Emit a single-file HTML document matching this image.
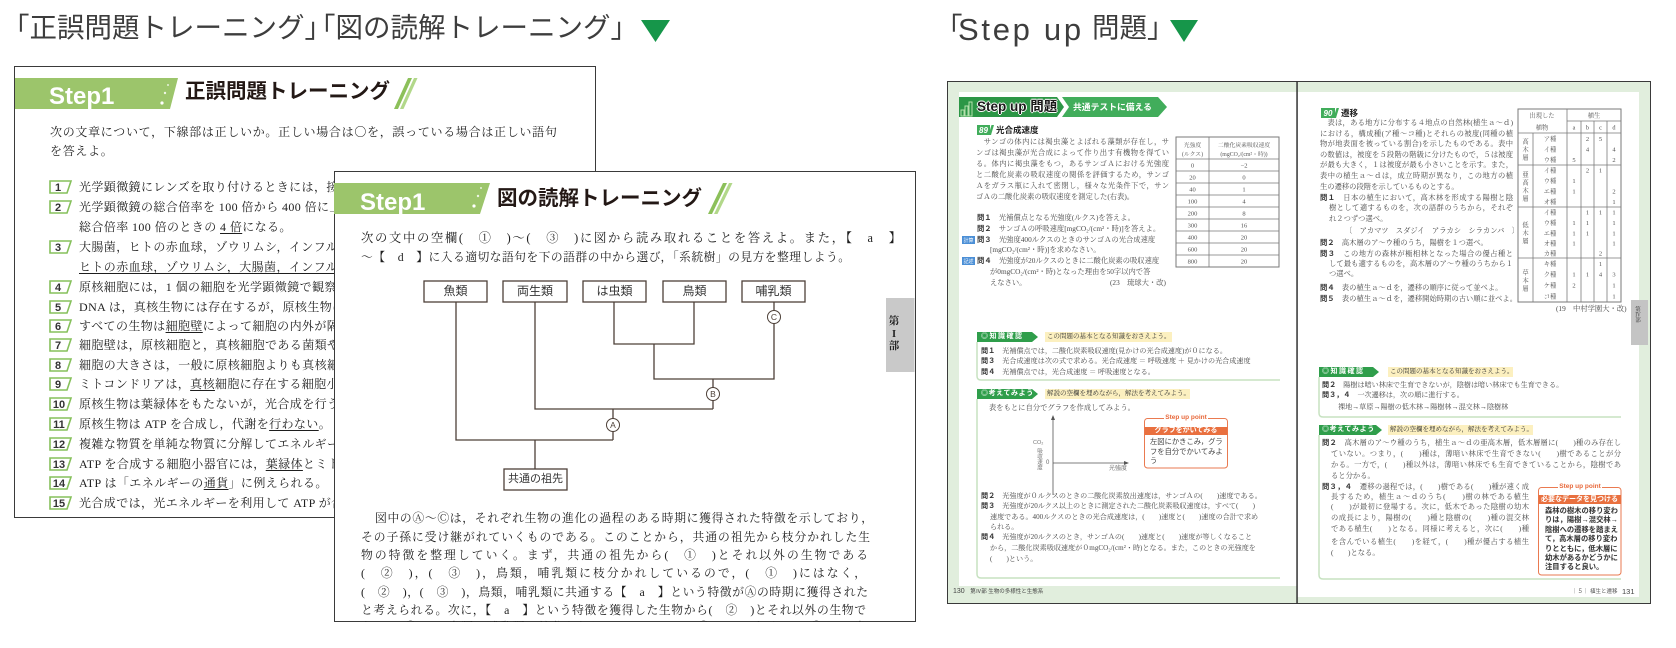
<!DOCTYPE html>
<html lang="ja"><head><meta charset="utf-8"><title>page</title>
<style>
*{margin:0;padding:0;box-sizing:border-box}
html,body{width:1676px;height:648px;overflow:hidden;background:#fff}
body{position:relative;font-family:"Liberation Sans","Noto Sans CJK JP",sans-serif;color:#222}
.a{position:absolute;white-space:nowrap}
.pg{position:absolute;overflow:hidden;background:#fff;outline:1.5px solid #3a3a3a;outline-offset:-1.5px}
.g{position:absolute;width:1676px;height:648px}
.g>svg{position:absolute;left:0;top:0}
.m{font-family:"Liberation Serif","Noto Serif CJK SC",serif}
.gs{font-family:"Liberation Sans","Noto Sans CJK JP",sans-serif}
.j{position:absolute;text-align:justify;text-align-last:justify;overflow:hidden;white-space:normal}
.r1{font-size:12px;letter-spacing:.4px;line-height:16px;color:#1e1e1e}
.p2{font-size:11.8px;line-height:16px;height:16px;color:#1e1e1e}
.u{text-decoration:underline;text-underline-offset:2px;text-decoration-thickness:1px}
.t{font-size:7.3px;line-height:10px;height:10px;color:#4a4a4a}
.q{font-family:"Liberation Sans","Noto Sans CJK JP",sans-serif;font-weight:bold;color:#333}
.lb{font-size:12px;line-height:21px;height:21px;text-align:center;color:#333;position:absolute}
</style></head><body>

<!-- Titles -->
<div class="a gs" style="left:2px;top:14px;font-size:27.5px;line-height:27px;color:#3d3d3d">「正誤問題トレーニング」</div>
<div class="a gs" style="left:308px;top:14px;font-size:27.5px;line-height:27px;color:#3d3d3d">「図の読解トレーニング」</div>
<div style="position:absolute;left:641px;top:20px;width:29px;height:22px;background:#16964a;clip-path:polygon(0 0,100% 0,50% 100%)"></div>

<div class="a gs" style="left:935px;top:14px;font-size:27.5px;line-height:27px;color:#3d3d3d">「</div>
<div class="a" style="left:958px;top:16px;font-family:'Liberation Sans',sans-serif;font-size:31px;line-height:27px;letter-spacing:2.7px;color:#3d3d3d">Step up</div>
<div class="a gs" style="left:1092px;top:14px;font-size:27.5px;line-height:27px;color:#3d3d3d">問題」</div>
<div style="position:absolute;left:1170px;top:20px;width:28px;height:22px;background:#16964a;clip-path:polygon(0 0,100% 0,50% 100%)"></div>

<!-- Page 1 -->
<div class="pg" style="left:14px;top:66px;width:582px;height:452px">
<div class="g" style="left:-14px;top:-66px">
<svg width="1676" height="648">
<polygon points="15,78 178,78 170,109 15,109" fill="#9cc56b"/>
<circle cx="168" cy="85" r="1" fill="#e6f2d8"/><circle cx="165" cy="93" r="1.2" fill="#eef6e4"/><circle cx="162" cy="103" r="1.6" fill="#fff"/>
<polygon points="408,78 412,78 398,109 394,109" fill="#8cc05a"/>
<polygon points="414,78 417.5,78 403.5,109 400,109" fill="#b2d88a"/>
<g fill="none" stroke="#86c05c" stroke-width="1.6">
<polygon points="50,181 71,181 67,193 50,193"/>
<polygon points="50,201 71,201 67,213 50,213"/>
<polygon points="50,241 71,241 67,253 50,253"/>
<polygon points="50,281 71,281 67,293 50,293"/>
<polygon points="50,301 71,301 67,313 50,313"/>
<polygon points="50,320 71,320 67,332 50,332"/>
<polygon points="50,339 71,339 67,351 50,351"/>
<polygon points="50,359 71,359 67,371 50,371"/>
<polygon points="50,378 71,378 67,390 50,390"/>
<polygon points="50,398 71,398 67,410 50,410"/>
<polygon points="50,418 71,418 67,430 50,430"/>
<polygon points="50,438 71,438 67,450 50,450"/>
<polygon points="50,458 71,458 67,470 50,470"/>
<polygon points="50,477 71,477 67,489 50,489"/>
<polygon points="50,497 71,497 67,509 50,509"/>
</g>
<g font-family="Liberation Sans,sans-serif" font-weight="bold" font-size="11" fill="#333" text-anchor="middle">
<text x="58" y="191">1</text><text x="58" y="211">2</text><text x="58" y="251">3</text><text x="58" y="291">4</text>
<text x="58" y="311">5</text><text x="58" y="330">6</text><text x="58" y="349">7</text><text x="58" y="369">8</text>
<text x="58" y="388">9</text><text x="59" y="408">10</text><text x="59" y="428">11</text><text x="59" y="448">12</text>
<text x="59" y="468">13</text><text x="59" y="487">14</text><text x="59" y="507">15</text>
</g>
</svg>
<div class="a" style="left:49px;top:85px;font-family:'Liberation Sans',sans-serif;font-weight:bold;font-size:24px;line-height:24px;color:#fff">Step1</div>
<div class="a gs" style="left:185px;top:81px;font-weight:bold;font-size:20.5px;line-height:22px;color:#231815">正誤問題トレーニング</div>
<div class="a m" style="left:50px;top:124px;font-size:12px;letter-spacing:.7px;line-height:16px;color:#1e1e1e">次の文章について，下線部は正しいか。正しい場合は〇を，誤っている場合は正しい語句</div>
<div class="a m" style="left:50px;top:143px;font-size:12px;letter-spacing:.7px;line-height:16px;color:#1e1e1e">を答えよ。</div>
<div class="a m r1" style="left:79px;top:179px">光学顕微鏡にレンズを取り付けるときには，接眼レンズを先に取り付ける。</div>
<div class="a m r1" style="left:79px;top:199px">光学顕微鏡の総合倍率を 100 倍から 400 倍に上げると，視野の面積は</div>
<div class="a m r1" style="left:79px;top:219px">総合倍率 100 倍のときの <span class="u">4 倍</span>になる。</div>
<div class="a m r1" style="left:79px;top:239px">大腸菌，ヒトの赤血球，ゾウリムシ，インフルエンザウイルスを大きい順に並べると，</div>
<div class="a m r1" style="left:79px;top:259px"><span class="u">ヒトの赤血球，ゾウリムシ，大腸菌，インフルエンザウイルス</span>となる。</div>
<div class="a m r1" style="left:79px;top:279px">原核細胞には，1 個の細胞を光学顕微鏡で観察できるものがある。</div>
<div class="a m r1" style="left:79px;top:299px">DNA は，真核生物には存在するが，原核生物には存在しない。</div>
<div class="a m r1" style="left:79px;top:318px">すべての生物は<span class="u">細胞壁</span>によって細胞の内外が隔てられている。</div>
<div class="a m r1" style="left:79px;top:337px">細胞壁は，原核細胞と，真核細胞である菌類や植物細胞にみられる。</div>
<div class="a m r1" style="left:79px;top:357px">細胞の大きさは，一般に原核細胞よりも真核細胞の方が大きい。</div>
<div class="a m r1" style="left:79px;top:376px">ミトコンドリアは，<span class="u">真核</span>細胞に存在する細胞小器官である。</div>
<div class="a m r1" style="left:79px;top:396px">原核生物は葉緑体をもたないが，光合成を行うものがいる。</div>
<div class="a m r1" style="left:79px;top:416px">原核生物は ATP を合成し，代謝を<span class="u">行わない</span>。</div>
<div class="a m r1" style="left:79px;top:436px">複雑な物質を単純な物質に分解してエネルギーを取り出す反応を異化という。</div>
<div class="a m r1" style="left:79px;top:456px">ATP を合成する細胞小器官には，<span class="u">葉緑体</span>とミトコンドリアがある。</div>
<div class="a m r1" style="left:79px;top:475px">ATP は「エネルギーの<span class="u">通貨</span>」に例えられる。</div>
<div class="a m r1" style="left:79px;top:495px">光合成では，光エネルギーを利用して ATP が合成される。</div>
</div></div>

<!-- Page 2 -->
<div class="pg" style="left:334px;top:171px;width:582px;height:451px">
<div class="g" style="left:-334px;top:-171px">
<svg width="1676" height="648">
<polygon points="334,183 490,183 480,214 334,214" fill="#9cc56b"/>
<circle cx="481" cy="188" r="1" fill="#e6f2d8"/><circle cx="478" cy="196" r="1.2" fill="#eef6e4"/><circle cx="474" cy="206" r="1.6" fill="#fff"/>
<polygon points="723,183 727,183 712,214 708,214" fill="#8cc05a"/>
<polygon points="729,183 732.5,183 717.5,214 714,214" fill="#b2d88a"/>
<rect x="886" y="298" width="28.5" height="74" fill="#c9c9c9"/>
<g stroke="#4d4038" stroke-width="1.3" fill="none">
<rect x="424" y="281" width="63" height="21"/>
<rect x="503" y="281" width="64" height="21"/>
<rect x="583" y="281" width="63" height="21"/>
<rect x="663" y="281" width="63" height="21"/>
<rect x="742" y="281" width="63" height="21"/>
<rect x="504" y="469" width="63" height="21"/>
<path d="M456 302V440H613M535 302V409H713M614 302V344H694V302M654 344V379H774V302M713 379V409M613 409V440M535 440V469"/>
</g>
<g fill="#fff" stroke="#4d4038" stroke-width="1"><circle cx="774" cy="317" r="6.5"/><circle cx="713" cy="394" r="6.5"/><circle cx="613" cy="425" r="6.5"/></g>
<g font-family="Liberation Sans,sans-serif" font-size="8.5" fill="#4d4038" text-anchor="middle">
<text x="774" y="320">C</text><text x="713" y="397">B</text><text x="613" y="428">A</text>
</g>
</svg>
<div class="a" style="left:360px;top:191px;font-family:'Liberation Sans',sans-serif;font-weight:bold;font-size:24px;line-height:24px;color:#fff">Step1</div>
<div class="a gs" style="left:497px;top:188px;font-weight:bold;font-size:20.5px;line-height:22px;color:#231815">図の読解トレーニング</div>
<div class="j m" style="left:361px;top:230px;width:540px;font-size:12.3px;line-height:16px;height:16px;color:#1e1e1e">次の文中の空欄(　①　)～(　③　)に図から読み取れることを答えよ。また，【　a　】</div>
<div class="j m" style="left:361px;top:249px;width:489px;font-size:11.8px;line-height:16px;height:16px;color:#1e1e1e">～【　d　】に入る適切な語句を下の語群の中から選び，「系統樹」の見方を整理しよう。</div>
<div class="lb gs" style="left:424px;top:281px;width:63px">魚類</div>
<div class="lb gs" style="left:503px;top:281px;width:64px">両生類</div>
<div class="lb gs" style="left:583px;top:281px;width:63px">は虫類</div>
<div class="lb gs" style="left:663px;top:281px;width:63px">鳥類</div>
<div class="lb gs" style="left:742px;top:281px;width:63px">哺乳類</div>
<div class="lb gs" style="left:504px;top:469px;width:63px;font-size:11px">共通の祖先</div>
<div class="j m p2" style="left:375px;top:510px;width:498px">図中のⒶ～Ⓒは，それぞれ生物の進化の過程のある時期に獲得された特徴を示しており，</div>
<div class="j m p2" style="left:361px;top:529px;width:509px">その子孫に受け継がれていくものである。このことから，共通の祖先から枝分かれした生</div>
<div class="j m p2" style="left:361px;top:547px;width:507px">物の特徴を整理していく。まず，共通の祖先から(　①　)とそれ以外の生物である</div>
<div class="j m p2" style="left:361px;top:565px;width:505px">(　②　)，(　③　)，鳥類，哺乳類に枝分かれしているので，(　①　)にはなく，</div>
<div class="j m p2" style="left:361px;top:584px;width:507px">(　②　)，(　③　)，鳥類，哺乳類に共通する【　a　】という特徴がⒶの時期に獲得された</div>
<div class="j m p2" style="left:361px;top:602px;width:505px">と考えられる。次に，【　a　】という特徴を獲得した生物から(　②　)とそれ以外の生物で</div>
<div class="j m p2" style="left:361px;top:619px;width:505px">ある(　③　)，鳥類，哺乳類に枝分かれしているので，(　②　)にはなく，(　③　)，鳥</div>
<div class="a m" style="left:888px;top:316px;width:12px;text-align:center;font-weight:bold;font-size:10.5px;line-height:12px;color:#222">第</div>
<div class="a m" style="left:888px;top:329px;width:12px;text-align:center;font-weight:bold;font-size:10.5px;line-height:12px;color:#222">I</div>
<div class="a m" style="left:888px;top:341px;width:12px;text-align:center;font-weight:bold;font-size:10.5px;line-height:12px;color:#222">部</div>
</div></div>

<!-- Spread -->
<div class="pg" style="left:947px;top:81px;width:704px;height:523px;background:#e1eedd">
<div class="g" style="left:-947px;top:-81px">
<svg width="1676" height="648">
<rect x="959" y="92" width="338" height="494" fill="#fff"/>
<rect x="1297" y="92" width="342" height="505" fill="#fff"/>
<rect x="1296.3" y="81" width="1.5" height="523" fill="#333"/>
<rect x="1631" y="300" width="17" height="45" fill="#c4c4c4"/>
<polygon points="959,97 1057,97 1064,107 1057,117 959,117" fill="#2c9646"/>
<polygon points="1062,97 1158,97 1167,107 1158,117 1062,117 1069,107" fill="#41ad5b"/>
<g fill="none" stroke="#b5e0ac" stroke-width="1"><rect x="961" y="110" width="3" height="6"/><rect x="965" y="106" width="3" height="10"/><rect x="969" y="102" width="3" height="14"/></g>
<rect x="977" y="125" width="13" height="10" fill="#41ad5b"/>
<polygon points="991.5,125 994,125 991,135 988.5,135" fill="#41ad5b"/>
<text x="983.5" y="133" font-family="Liberation Sans,sans-serif" font-weight="bold" font-style="italic" font-size="8" fill="#fff" text-anchor="middle">89</text>
<g stroke="#7a7a7a" stroke-width=".8" fill="none">
<rect x="1176" y="137" width="103" height="130" stroke-width="1"/>
<path d="M1209 137V267M1176 159H1279M1176 171H1279M1176 183H1279M1176 195H1279M1176 207H1279M1176 219H1279M1176 231H1279M1176 243H1279M1176 255H1279"/>
</g>
<g font-family="Liberation Serif,Noto Serif CJK SC,serif" font-size="5.8" fill="#555" text-anchor="middle">
<text x="1192.5" y="147">光強度</text><text x="1192.5" y="156">(ルクス)</text>
<text x="1244" y="147">二酸化炭素吸収速度</text><text x="1244" y="156">(mgCO₂/(cm²・時))</text>
</g>
<g font-family="Liberation Serif,serif" font-size="6.5" fill="#555" text-anchor="middle">
<text x="1192.5" y="167.5">0</text><text x="1244" y="167.5">−2</text>
<text x="1192.5" y="179.5">20</text><text x="1244" y="179.5">0</text>
<text x="1192.5" y="191.5">40</text><text x="1244" y="191.5">1</text>
<text x="1192.5" y="203.5">100</text><text x="1244" y="203.5">4</text>
<text x="1192.5" y="215.5">200</text><text x="1244" y="215.5">8</text>
<text x="1192.5" y="227.5">300</text><text x="1244" y="227.5">16</text>
<text x="1192.5" y="239.5">400</text><text x="1244" y="239.5">20</text>
<text x="1192.5" y="251.5">600</text><text x="1244" y="251.5">20</text>
<text x="1192.5" y="263.5">800</text><text x="1244" y="263.5">20</text>
</g>
<rect x="962" y="236" width="13" height="8" fill="#4b8fd6"/>
<rect x="962" y="257" width="13" height="8" fill="#4b8fd6"/>
<g font-family="Noto Sans CJK JP,sans-serif" font-size="5" fill="#fff" text-anchor="middle"><text x="968.5" y="242">計算</text><text x="968.5" y="263">記述</text></g>
<polygon points="977,332 1032,332 1038,337 1032,342 977,342" fill="#2f9e4b"/>
<rect x="1045" y="332" width="127" height="10" fill="#fcf0c0"/>
<path d="M977 342V376Q977 380 981 380H1280" fill="none" stroke="#c7e2c1" stroke-width="1.5"/>
<polygon points="977,389 1032,389 1038,394 1032,399 977,399" fill="#2f9e4b"/>
<rect x="1045" y="389" width="145" height="10" fill="#fcf0c0"/>
<path d="M977 399V574Q977 578 981 578H1280" fill="none" stroke="#c7e2c1" stroke-width="1.5"/>
<g stroke="#555" stroke-width=".8" fill="none"><path d="M1053 419V495M1053 463H1125"/></g>
<polygon points="1053,415 1051,420 1055,420" fill="#555"/>
<polygon points="1129,463 1124,461 1124,465" fill="#555"/>
<rect x="1144.5" y="418.5" width="83" height="49.5" rx="3" fill="#fff" stroke="#ea7a50" stroke-width="1"/>
<rect x="1164" y="414" width="44" height="8" fill="#fff"/>
<rect x="1144.5" y="427" width="83" height="8" fill="#e9703f"/>
<rect x="1321" y="108" width="14" height="10" fill="#41ad5b"/>
<polygon points="1336.5,108 1339,108 1336,118 1333.5,118" fill="#41ad5b"/>
<text x="1328" y="116" font-family="Liberation Sans,sans-serif" font-weight="bold" font-style="italic" font-size="8" fill="#fff" text-anchor="middle">90</text>
<g stroke="#7a7a7a" stroke-width=".8" fill="none">
<rect x="1518" y="109" width="103" height="193" stroke-width="1"/>
<path d="M1567 109V302M1567 121H1621M1518 133H1621M1518 165H1621M1518 207H1621M1518 258H1621M1533 133V302M1581 121V302M1594 121V302M1607 121V302"/>
</g>
<g font-family="Liberation Serif,Noto Serif CJK SC,serif" font-size="6.3" fill="#555" text-anchor="middle">
<text x="1542" y="117.5">出現した</text><text x="1542" y="129.5">植物</text><text x="1594" y="117.5">植生</text>
<text x="1574" y="129.5">a</text><text x="1587.5" y="129.5">b</text><text x="1600.5" y="129.5">c</text><text x="1614" y="129.5">d</text>
<text x="1525.5" y="143.5">高</text><text x="1525.5" y="151.5">木</text><text x="1525.5" y="159.5">層</text>
<text x="1525.5" y="176.5">亜</text><text x="1525.5" y="184.5">高</text><text x="1525.5" y="192.5">木</text><text x="1525.5" y="200.5">層</text>
<text x="1525.5" y="227">低</text><text x="1525.5" y="235">木</text><text x="1525.5" y="243">層</text>
<text x="1525.5" y="274.5">草</text><text x="1525.5" y="282.5">本</text><text x="1525.5" y="290.5">層</text>
<text x="1550" y="141">ア種</text><text x="1550" y="151.5">イ種</text><text x="1550" y="162">ウ種</text>
<text x="1550" y="172.5">イ種</text><text x="1550" y="183">ウ種</text><text x="1550" y="193.5">エ種</text><text x="1550" y="204">オ種</text>
<text x="1550" y="214.5">イ種</text><text x="1550" y="225">ウ種</text><text x="1550" y="235.5">エ種</text><text x="1550" y="245.5">オ種</text><text x="1550" y="255.5">カ種</text>
<text x="1550" y="266">キ種</text><text x="1550" y="276.5">ク種</text><text x="1550" y="287.5">ケ種</text><text x="1550" y="298.5">コ種</text>
</g>
<g font-family="Liberation Serif,serif" font-size="6.5" fill="#555" text-anchor="middle">
<text x="1587.5" y="141">2</text><text x="1600.5" y="141">5</text>
<text x="1587.5" y="151.5">4</text><text x="1614" y="151.5">4</text>
<text x="1574" y="162">5</text><text x="1614" y="162">2</text>
<text x="1587.5" y="172.5">2</text><text x="1600.5" y="172.5">1</text>
<text x="1574" y="183">1</text>
<text x="1574" y="193.5">1</text><text x="1614" y="193.5">2</text>
<text x="1614" y="204">1</text>
<text x="1587.5" y="214.5">1</text><text x="1600.5" y="214.5">1</text><text x="1614" y="214.5">1</text>
<text x="1574" y="225">1</text><text x="1587.5" y="225">1</text><text x="1614" y="225">1</text>
<text x="1574" y="235.5">1</text><text x="1587.5" y="235.5">1</text><text x="1614" y="235.5">1</text>
<text x="1574" y="245.5">1</text><text x="1614" y="245.5">1</text>
<text x="1600.5" y="255.5">2</text>
<text x="1600.5" y="266">1</text>
<text x="1574" y="276.5">1</text><text x="1587.5" y="276.5">1</text><text x="1600.5" y="276.5">4</text><text x="1614" y="276.5">3</text>
<text x="1574" y="287.5">2</text><text x="1614" y="287.5">1</text>
<text x="1614" y="298.5">1</text>
</g>
<polygon points="1319,367 1373,367 1379,372 1373,377 1319,377" fill="#2f9e4b"/>
<rect x="1388" y="367" width="125" height="10" fill="#fcf0c0"/>
<path d="M1319 377V413Q1319 417 1323 417H1621" fill="none" stroke="#c7e2c1" stroke-width="1.5"/>
<polygon points="1319,425 1376,425 1382,430 1376,435 1319,435" fill="#2f9e4b"/>
<rect x="1388" y="425" width="145" height="10" fill="#fcf0c0"/>
<path d="M1319 435V575Q1319 579 1323 579H1621" fill="none" stroke="#c7e2c1" stroke-width="1.5"/>
<rect x="1538.5" y="487.5" width="82.5" height="87.5" rx="3" fill="#fff" stroke="#ea7a50" stroke-width="1"/>
<rect x="1558" y="483" width="44" height="8" fill="#fff"/>
<rect x="1538.5" y="495" width="82.5" height="9" fill="#e9703f"/>
</svg>

<div class="a gs" style="left:977px;top:100px;font-weight:bold;font-size:13.5px;line-height:14px;color:#1a1a1a;text-shadow:-1px 0 #fff,1px 0 #fff,0 -1px #fff,0 1px #fff">Step up 問題</div>
<div class="a gs" style="left:1073px;top:102px;font-weight:bold;font-size:8.8px;line-height:10px;color:#fff">共通テストに備える</div>
<div class="a gs" style="left:996px;top:125px;font-weight:bold;font-size:8.5px;line-height:10px;color:#222">光合成速度</div>
<div class="j t m" style="left:976px;top:137px;width:193px">　サンゴの体内には褐虫藻とよばれる藻類が存在し，サ</div>
<div class="j t m" style="left:976px;top:148px;width:193px">ンゴは褐虫藻が光合成によって作り出す有機物を得てい</div>
<div class="j t m" style="left:976px;top:159px;width:193px">る。体内に褐虫藻をもつ，あるサンゴＡにおける光強度</div>
<div class="j t m" style="left:976px;top:170px;width:193px">と二酸化炭素の吸収速度の関係を評価するため，サンゴ</div>
<div class="j t m" style="left:976px;top:181px;width:193px">Ａをガラス瓶に入れて密閉し，様々な光条件下で，サン</div>
<div class="a t m" style="left:976px;top:192px">ゴＡの二酸化炭素の吸収速度を測定した(右表)。</div>
<div class="a t m" style="left:977px;top:213px"><b class="q">問１</b>　光補償点となる光強度(ルクス)を答えよ。</div>
<div class="a t m" style="left:977px;top:224px"><b class="q">問２</b>　サンゴＡの呼吸速度[mgCO₂/(cm²・時)]を答えよ。</div>
<div class="a t m" style="left:977px;top:235px"><b class="q">問３</b>　光強度400ルクスのときのサンゴＡの光合成速度</div>
<div class="a t m" style="left:990px;top:245px">[mgCO₂/(cm²・時)]を求めなさい。</div>
<div class="a t m" style="left:977px;top:256px"><b class="q">問４</b>　光強度が20ルクスのときに二酸化炭素の吸収速度</div>
<div class="a t m" style="left:990px;top:267px">が0mgCO₂/(cm²・時)となった理由を50字以内で答</div>
<div class="a t m" style="left:990px;top:278px">えなさい。</div>
<div class="a t m" style="left:1110px;top:278px">(23　琉球大・改)</div>

<div class="a gs" style="left:981px;top:332px;font-weight:bold;font-size:7px;line-height:10px;color:#fff;letter-spacing:1.5px">◎知識確認</div>
<div class="a t m" style="left:1047px;top:332px;font-size:6.5px;color:#333">この問題の基本となる知識をおさえよう。</div>
<div class="a t m" style="left:981px;top:346px;font-size:7.1px"><b class="q">問１</b>　光補償点では，二酸化炭素吸収速度(見かけの光合成速度)が０になる。</div>
<div class="a t m" style="left:981px;top:356px;font-size:7.1px"><b class="q">問３</b>　光合成速度は次の式で求める。光合成速度 ＝ 呼吸速度 ＋ 見かけの光合成速度</div>
<div class="a t m" style="left:981px;top:367px;font-size:7.1px"><b class="q">問４</b>　光補償点では，光合成速度 ＝ 呼吸速度となる。</div>

<div class="a gs" style="left:981px;top:389px;font-weight:bold;font-size:7px;line-height:10px;color:#fff;letter-spacing:.6px">◎考えてみよう</div>
<div class="a t m" style="left:1047px;top:389px;font-size:6.5px;color:#333">解説の空欄を埋めながら，解法を考えてみよう。</div>
<div class="a t m" style="left:989px;top:403px">表をもとに自分でグラフを作成してみよう。</div>
<div class="a gs" style="left:1046px;top:459px;font-size:6px;line-height:8px;color:#666">0</div>
<div class="a gs" style="left:1033px;top:440px;font-size:5.5px;line-height:7px;color:#777">CO₂</div>
<div class="a gs" style="left:1035px;top:448px;font-size:5.5px;line-height:7px;color:#777;writing-mode:vertical-rl">吸収速度</div>
<div class="a gs" style="left:1109px;top:465px;font-size:6px;line-height:8px;color:#777">光強度</div>
<div class="a gs" style="left:1164px;top:414px;width:44px;text-align:center;font-weight:bold;font-size:6.5px;line-height:8px;color:#e8683a">Step up point</div>
<div class="a gs" style="left:1144px;top:427px;width:84px;text-align:center;font-weight:bold;font-size:7px;line-height:8px;color:#fff">グラフをかいてみる</div>
<div class="a gs" style="left:1150px;top:437px;font-size:7.3px;line-height:10px;color:#444">左図にかきこみ，グラ</div>
<div class="a gs" style="left:1150px;top:447px;font-size:7.3px;line-height:10px;color:#444">フを自分でかいてみよ</div>
<div class="a gs" style="left:1150px;top:456px;font-size:7.3px;line-height:10px;color:#444">う</div>

<div class="a t m" style="left:981px;top:491px;font-size:7.1px"><b class="q">問２</b>　光強度が０ルクスのときの二酸化炭素放出速度は，サンゴＡの(　　)速度である。</div>
<div class="a t m" style="left:981px;top:501px;font-size:7.1px"><b class="q">問３</b>　光強度が20ルクス以上のときに測定された二酸化炭素吸収速度は，すべて(　　)</div>
<div class="a t m" style="left:990px;top:512px;font-size:7.1px">速度である。400ルクスのときの光合成速度は，(　　)速度と(　　)速度の合計で求め</div>
<div class="a t m" style="left:990px;top:522px;font-size:7.1px">られる。</div>
<div class="a t m" style="left:981px;top:532px;font-size:7.1px"><b class="q">問４</b>　光強度が20ルクスのとき，サンゴＡの(　　)速度と(　　)速度が等しくなること</div>
<div class="a t m" style="left:990px;top:543px;font-size:7.1px">から，二酸化炭素吸収速度が０mgCO₂/(cm²・時)となる。また，このときの光強度を</div>
<div class="a t m" style="left:990px;top:554px;font-size:7.1px">(　　)という。</div>
<div class="a gs" style="left:953px;top:587px;font-size:7px;line-height:9px;color:#444">130<span style="font-size:5.5px">　第Ⅳ部 生物の多様性と生態系</span></div>

<div class="a gs" style="left:1341px;top:108px;font-weight:bold;font-size:8.5px;line-height:10px;color:#222">遷移</div>
<div class="j t m" style="left:1320px;top:118px;width:193px">　表は，ある地方に分布する４地点の自然林(植生ａ～ｄ)</div>
<div class="j t m" style="left:1320px;top:129px;width:193px">における，構成種(ア種～コ種)とそれらの被度(同種の植</div>
<div class="j t m" style="left:1320px;top:139px;width:193px">物が地表面を被っている割合)を示したものである。表中</div>
<div class="j t m" style="left:1320px;top:150px;width:193px">の数値は，被度を５段階の階級に分けたもので，５は被度</div>
<div class="j t m" style="left:1320px;top:160px;width:193px">が最も大きく，１は被度が最も小さいことを示す。また，</div>
<div class="j t m" style="left:1320px;top:171px;width:193px">表中の植生ａ～ｄは，成立時期が異なり，この地方の植</div>
<div class="a t m" style="left:1320px;top:182px">生の遷移の段階を示しているものとする。</div>
<div class="j t m" style="left:1320px;top:193px;width:193px"><b class="q">問１</b>　日本の植生において，高木林を形成する陽樹と陰</div>
<div class="j t m" style="left:1329px;top:203px;width:184px">樹として適するものを，次の語群のうちから，それぞ</div>
<div class="a t m" style="left:1329px;top:214px">れ２つずつ選べ。</div>
<div class="a t m" style="left:1345px;top:226px">〔　アカマツ　スダジイ　アラカシ　シラカンバ　〕</div>
<div class="a t m" style="left:1320px;top:238px"><b class="q">問２</b>　高木層のア～ウ種のうち，陽樹を１つ選べ。</div>
<div class="j t m" style="left:1320px;top:249px;width:193px"><b class="q">問３</b>　この地方の森林が極相林となった場合の優占種と</div>
<div class="j t m" style="left:1329px;top:259px;width:184px">して最も適するものを，高木層のア～ウ種のうちから１</div>
<div class="a t m" style="left:1329px;top:269px">つ選べ。</div>
<div class="a t m" style="left:1320px;top:283px"><b class="q">問４</b>　表の植生ａ～ｄを，遷移の順序に従って並べよ。</div>
<div class="a t m" style="left:1320px;top:294px"><b class="q">問５</b>　表の植生ａ～ｄを，遷移開始時期の古い順に並べよ。</div>
<div class="a t m" style="left:1556px;top:304px">(19　中村学園大・改)</div>
<div class="a m" style="left:1634px;top:306px;font-size:5.5px;line-height:6px;color:#333;writing-mode:vertical-rl">第Ⅳ部</div>

<div class="a gs" style="left:1322px;top:367px;font-weight:bold;font-size:7px;line-height:10px;color:#fff;letter-spacing:1.5px">◎知識確認</div>
<div class="a t m" style="left:1390px;top:367px;font-size:6.5px;color:#333">この問題の基本となる知識をおさえよう。</div>
<div class="a t m" style="left:1322px;top:380px;font-size:7.1px"><b class="q">問２</b>　陽樹は暗い林床で生育できないが，陰樹は暗い林床でも生育できる。</div>
<div class="a t m" style="left:1322px;top:390px;font-size:7.1px"><b class="q">問３，４</b>　一次遷移は，次の順に進行する。</div>
<div class="a t m" style="left:1338px;top:402px;font-size:7.1px">裸地→草原→陽樹の低木林→陽樹林→混交林→陰樹林</div>

<div class="a gs" style="left:1322px;top:425px;font-weight:bold;font-size:7px;line-height:10px;color:#fff;letter-spacing:.6px">◎考えてみよう</div>
<div class="a t m" style="left:1390px;top:425px;font-size:6.5px;color:#333">解説の空欄を埋めながら，解法を考えてみよう。</div>
<div class="j t m" style="left:1322px;top:438px;width:299px"><b class="q">問２</b>　高木層のア～ウ種のうち，植生ａ～ｄの亜高木層，低木層層に(　　)種のみ存在し</div>
<div class="j t m" style="left:1331px;top:449px;width:290px">ていない。つまり，(　　)種は，薄暗い林床で生育できない(　　)樹であることが分</div>
<div class="j t m" style="left:1331px;top:460px;width:290px">かる。一方で，(　　)種以外は，薄暗い林床でも生育できていることから，陰樹であ</div>
<div class="a t m" style="left:1331px;top:471px">ると分かる。</div>
<div class="j t m" style="left:1322px;top:482px;width:207px"><b class="q">問３，４</b>　遷移の過程では，(　　)樹である(　　)種が速く成</div>
<div class="j t m" style="left:1331px;top:492px;width:198px">長するため，植生ａ～ｄのうち(　　)樹の林である植生</div>
<div class="j t m" style="left:1331px;top:502px;width:198px">(　　)が最初に登場する。次に，低木であった陰樹の幼木</div>
<div class="j t m" style="left:1331px;top:513px;width:198px">の成長により，陽樹の(　　)種と陰樹の(　　)種の混交林</div>
<div class="j t m" style="left:1331px;top:524px;width:198px">である植生(　　)となる。同様に考えると，次に(　　)種</div>
<div class="j t m" style="left:1331px;top:537px;width:198px">を含んでいる植生(　　)を経て，(　　)種が優占する植生</div>
<div class="a t m" style="left:1331px;top:548px">(　　)となる。</div>
<div class="a gs" style="left:1558px;top:483px;width:44px;text-align:center;font-weight:bold;font-size:6.5px;line-height:8px;color:#e8683a">Step up point</div>
<div class="a gs" style="left:1538px;top:495px;width:83px;text-align:center;font-weight:bold;font-size:7px;line-height:9px;color:#fff">必要なデータを見つける</div>
<div class="a gs" style="left:1545px;top:506px;font-weight:bold;font-size:7.3px;line-height:9.4px;color:#333;white-space:normal;width:74px">森林の樹木の移り変わりは，陽樹→混交林→陰樹への遷移を踏まえて，高木層の移り変わりとともに，低木層に幼木があるかどうかに注目すると良い。</div>
<div class="a gs" style="left:1572px;top:588px;font-size:5.5px;line-height:8px;color:#555">｜５｜ 植生と遷移</div>
<div class="a gs" style="left:1622px;top:587px;font-size:7.5px;line-height:9px;color:#444">131</div>
</div></div>

</body></html>
